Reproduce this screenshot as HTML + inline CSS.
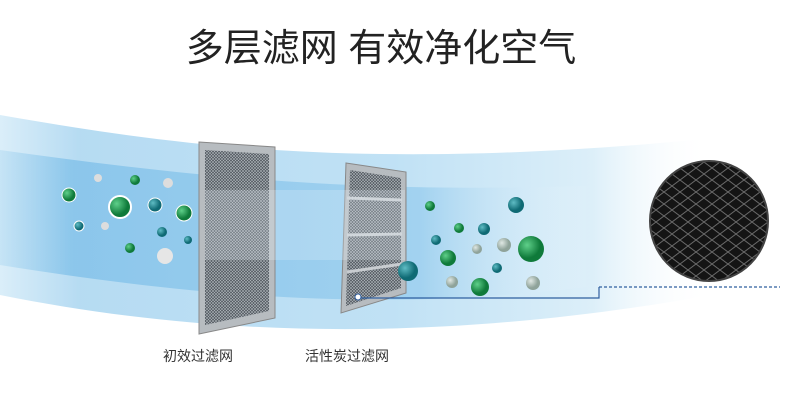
<!DOCTYPE html>
<html><head><meta charset="utf-8"><style>
html,body{margin:0;padding:0;background:#fff;width:790px;height:400px;overflow:hidden}
svg{display:block}
</style></head><body>
<svg width="790" height="400" viewBox="0 0 790 400" xmlns="http://www.w3.org/2000/svg">
<defs>
<linearGradient id="band" x1="0" y1="0" x2="1" y2="0">
<stop offset="0" stop-color="#d4ebf8"/><stop offset="0.1" stop-color="#a9d5f0"/><stop offset="0.5" stop-color="#b5dcf3"/><stop offset="0.75" stop-color="#d6ecf8"/><stop offset="0.9" stop-color="#ffffff" stop-opacity="0"/>
</linearGradient>
<linearGradient id="band2" x1="0" y1="0" x2="1" y2="0">
<stop offset="0" stop-color="#b8ddf3"/><stop offset="0.1" stop-color="#6fb8e6"/><stop offset="0.6" stop-color="#8cc7ec"/><stop offset="0.85" stop-color="#ffffff" stop-opacity="0"/>
</linearGradient>
<pattern id="mesh" width="3" height="3" patternUnits="userSpaceOnUse">
<rect width="3" height="3" fill="#4f565d"/><path d="M0 0L3 3M3 0L0 3" stroke="#b0b6bb" stroke-width="0.6"/>
</pattern>
<pattern id="diam" width="16" height="12" patternUnits="userSpaceOnUse">
<rect width="16" height="12" fill="#141414"/><path d="M0 6L8 0L16 6L8 12Z" fill="none" stroke="#6a6a6a" stroke-width="1"/>
</pattern>
<radialGradient id="g1" cx="0.35" cy="0.35"><stop offset="0" stop-color="#5fd08a"/><stop offset="1" stop-color="#0f7a3a"/></radialGradient>
<radialGradient id="g2" cx="0.35" cy="0.35"><stop offset="0" stop-color="#5fbcc4"/><stop offset="1" stop-color="#0f6a74"/></radialGradient>
<radialGradient id="g3" cx="0.35" cy="0.35"><stop offset="0" stop-color="#e0e8e4"/><stop offset="1" stop-color="#8fa39a"/></radialGradient>
</defs>
<text x="381" y="61" text-anchor="middle" font-family="Liberation Sans, Noto Sans CJK SC, sans-serif" font-size="38" fill="#222">多层滤网 有效净化空气</text>
<path d="M0 115 C200 150 400 175 790 130 L790 280 C500 340 250 345 0 295 Z" fill="url(#band)" opacity="0.85"/>
<path d="M0 150 C200 178 400 200 700 180 L700 270 C450 315 250 305 0 265 Z" fill="url(#band2)" opacity="0.6"/>
<g>
<circle cx="69" cy="195" r="7" fill="url(#g1)" stroke="#fff"/>
<circle cx="120" cy="207" r="11" fill="url(#g1)" stroke="#fff" stroke-width="2"/>
<circle cx="135" cy="180" r="5" fill="url(#g1)"/>
<circle cx="155" cy="205" r="7" fill="url(#g2)" stroke="#fff"/>
<circle cx="184" cy="213" r="8" fill="url(#g1)" stroke="#fff"/>
<circle cx="79" cy="226" r="5" fill="url(#g2)" stroke="#fff"/>
<circle cx="162" cy="232" r="5" fill="url(#g2)"/>
<circle cx="188" cy="240" r="4" fill="url(#g2)"/>
<circle cx="130" cy="248" r="5" fill="url(#g1)"/>
<circle cx="98" cy="178" r="4" fill="#ddd"/><circle cx="168" cy="183" r="5" fill="#ddd"/><circle cx="105" cy="226" r="4" fill="#ddd"/><circle cx="165" cy="256" r="8" fill="#e6e6e6"/>
</g>
<polygon points="199,142 275,147 275,318 199,334" fill="#b7bcc0" stroke="#888"/>
<polygon points="205,150 269,154 269,311 205,325" fill="url(#mesh)"/>
<polygon points="346,163 406,172 406,293 341,313" fill="#b7bcc0" stroke="#888"/>
<polygon points="350,170 401,178 401,288 346,306" fill="url(#mesh)"/>
<g stroke="#c8ccd0" stroke-width="3"><line x1="347" y1="198" x2="402" y2="200"/><line x1="347" y1="235" x2="402" y2="234"/><line x1="347" y1="272" x2="402" y2="264"/></g>
<rect x="205" y="190" width="200" height="70" fill="#e6f3fb" opacity="0.25"/>
<circle cx="430" cy="206" r="5" fill="url(#g1)"/><circle cx="516" cy="205" r="8" fill="url(#g2)"/>
<circle cx="459" cy="228" r="5" fill="url(#g1)"/><circle cx="484" cy="229" r="6" fill="url(#g2)"/>
<circle cx="436" cy="240" r="5" fill="url(#g2)"/><circle cx="504" cy="245" r="7" fill="url(#g3)"/>
<circle cx="477" cy="249" r="5" fill="url(#g3)"/><circle cx="531" cy="249" r="13" fill="url(#g1)"/>
<circle cx="448" cy="258" r="8" fill="url(#g1)"/><circle cx="497" cy="268" r="5" fill="url(#g2)"/>
<circle cx="408" cy="271" r="10" fill="url(#g2)"/><circle cx="452" cy="282" r="6" fill="url(#g3)"/>
<circle cx="480" cy="287" r="9" fill="url(#g1)"/><circle cx="533" cy="283" r="7" fill="url(#g3)"/>
<ellipse cx="709" cy="221" rx="59" ry="60" fill="url(#diam)" stroke="#444" stroke-width="2"/>
<circle cx="358" cy="297" r="3" fill="#fff" stroke="#2f5f9f"/>
<polyline points="361,298 599,298 599,287" fill="none" stroke="#2f5f9f" stroke-width="1.2"/>
<line x1="599" y1="287" x2="780" y2="287" stroke="#2f5f9f" stroke-width="1.2" stroke-dasharray="3,2"/>
<text x="163" y="361" font-family="Liberation Sans, Noto Sans CJK SC, sans-serif" font-size="14" fill="#333">初效过滤网</text>
<text x="305" y="361" font-family="Liberation Sans, Noto Sans CJK SC, sans-serif" font-size="14" fill="#333">活性炭过滤网</text>
</svg>
</body></html>
